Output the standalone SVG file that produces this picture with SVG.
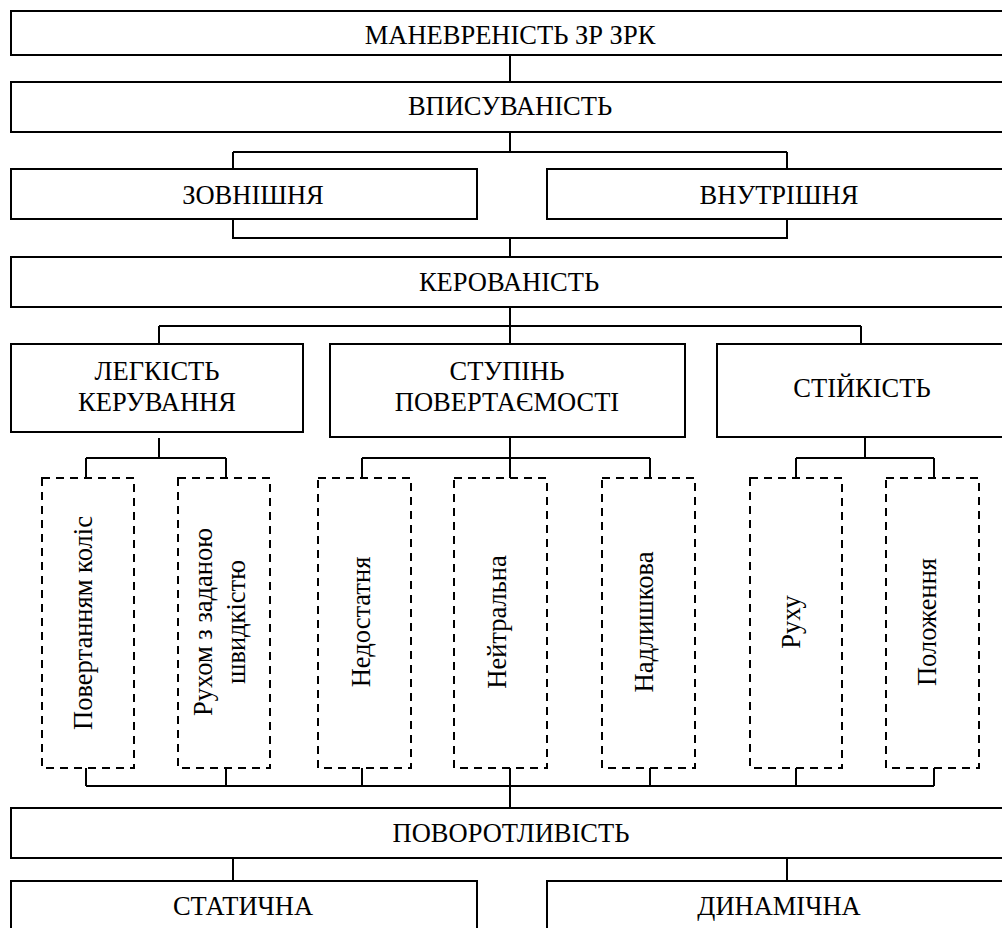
<svg xmlns="http://www.w3.org/2000/svg" width="1002" height="928" viewBox="0 0 1002 928">
<style>
.box{fill:#fff;stroke:#000;stroke-width:2}
.dbox{fill:#fff;stroke:#000;stroke-width:2;stroke-dasharray:8 6}
.c{fill:none;stroke:#000;stroke-width:2}
</style>
<rect x="0" y="0" width="1002" height="928" fill="#fff"/>
<g id="connectors" class="c">
<path d="M510 55V82"/>
<path d="M510 132V152M233 152H787M233 152V169M787 152V169"/>
<path d="M233 219V238H787V219M510 238V257"/>
<path d="M510 307V344M159 326H861M159 326V344M861 326V344"/>
<path d="M159 438V458M86 458H226M86 458V478M226 458V478"/>
<path d="M510 437V478M362 458H650M362 458V478M650 458V478"/>
<path d="M865 437V458M796 458H934M796 458V478M934 458V478"/>
<path d="M86 768V786M226 768V786M362 768V786M510 768V786M650 768V786M796 768V786M934 768V786M86 786H934M510 786V808"/>
<path d="M233 858V881M787 858V881"/>
</g>
<g font-family="Liberation Serif, Times New Roman, serif" font-size="26.5" fill="#000" text-anchor="middle">
<g id="n-manevrenist"><rect class="box" x="11" y="11" width="998" height="44"/><text x="510" y="44">МАНЕВРЕНІСТЬ ЗР ЗРК</text></g>
<g id="n-vpysuvanist"><rect class="box" x="11" y="82" width="998" height="50"/><text x="510" y="115">ВПИСУВАНІСТЬ</text></g>
<g id="n-zovnishnia"><rect class="box" x="11" y="169" width="466" height="50"/><text x="253" y="204">ЗОВНІШНЯ</text></g>
<g id="n-vnutrishnia"><rect class="box" x="547" y="169" width="464" height="50"/><text x="779" y="204">ВНУТРІШНЯ</text></g>
<g id="n-kerovanist"><rect class="box" x="11" y="257" width="998" height="50"/><text x="509" y="291">КЕРОВАНІСТЬ</text></g>
<g id="n-lehkist"><rect class="box" x="11" y="344" width="292" height="88"/><text x="157" y="380">ЛЕГКІСТЬ</text><text x="157" y="411">КЕРУВАННЯ</text></g>
<g id="n-stupin"><rect class="box" x="330" y="344" width="355" height="93"/><text x="507" y="380">СТУПІНЬ</text><text x="507" y="411">ПОВЕРТАЄМОСТІ</text></g>
<g id="n-stiikist"><rect class="box" x="717" y="344" width="292" height="93"/><text x="862" y="397">СТІЙКІСТЬ</text></g>
<g id="n-povertanniam"><rect class="dbox" x="42" y="478" width="92" height="290"/><text transform="translate(92 623) rotate(-90)">Повертанням коліс</text></g>
<g id="n-rukhom"><rect class="dbox" x="178" y="478" width="92" height="290"/><text transform="translate(212 622) rotate(-90)">Рухом з заданою</text><text transform="translate(245 622) rotate(-90)">швидкістю</text></g>
<g id="n-nedostatnia"><rect class="dbox" x="318" y="478" width="93" height="290"/><text transform="translate(370 622) rotate(-90)">Недостатня</text></g>
<g id="n-neitralna"><rect class="dbox" x="454" y="478" width="93" height="290"/><text transform="translate(506 622) rotate(-90)">Нейтральна</text></g>
<g id="n-nadlyshkova"><rect class="dbox" x="602" y="478" width="93" height="290"/><text transform="translate(653 622) rotate(-90)">Надлишкова</text></g>
<g id="n-rukhu"><rect class="dbox" x="750" y="478" width="92" height="290"/><text transform="translate(800 622) rotate(-90)">Руху</text></g>
<g id="n-polozhennia"><rect class="dbox" x="886" y="478" width="93" height="290"/><text transform="translate(936 622) rotate(-90)">Положення</text></g>
<g id="n-povorotlyvist"><rect class="box" x="11" y="808" width="998" height="50"/><text x="511" y="842">ПОВОРОТЛИВІСТЬ</text></g>
<g id="n-statychna"><rect class="box" x="11" y="881" width="466" height="60"/><text x="243" y="915">СТАТИЧНА</text></g>
<g id="n-dynamichna"><rect class="box" x="547" y="881" width="464" height="60"/><text x="779" y="915">ДИНАМІЧНА</text></g>
</g>
</svg>
